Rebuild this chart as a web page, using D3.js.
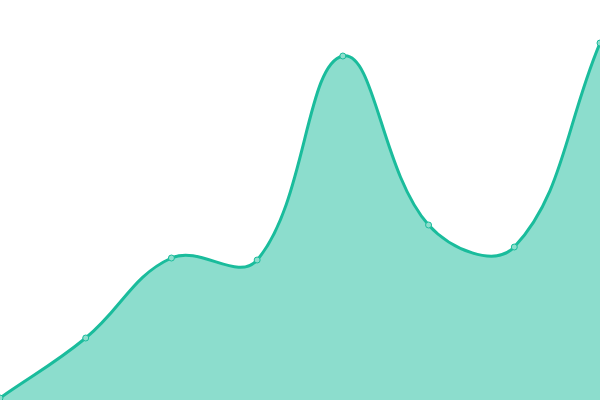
<!DOCTYPE html>
<html>
	<head>
		<meta charset = "utf-8">
		<script src = "https://d3js.org/d3.v7.min.js"></script>
		<style>
			body { margin: 0; background: #fff; }
		</style>
	</head>
	<body>
		<script>
			// Datos de la serie
			var labels = [0, 1, 2, 3, 4, 5, 6, 7];
			var values = [2, 62, 142, 140, 344, 175, 153, 357];

			var width = 600, height = 400, tension = 0.4;

			var x = d3.scaleLinear().domain([0, labels.length - 1]).range([0, width]);
			var y = d3.scaleLinear().domain([0, 400]).range([height, 0]);

			var pts = labels.map(function(d, i){ return [x(d), y(values[i])]; });

			// Curva tipo spline con tension ponderada por distancia
			function splinePath(p, ctx){
				var cps = p.map(function(cur, i){
					var prev = p[i > 0 ? i - 1 : i], next = p[i < p.length - 1 ? i + 1 : i];
					var d01 = Math.hypot(cur[0] - prev[0], cur[1] - prev[1]);
					var d12 = Math.hypot(next[0] - cur[0], next[1] - cur[1]);
					var s01 = d01 / (d01 + d12) || 0, s12 = d12 / (d01 + d12) || 0;
					var fa = tension * s01, fb = tension * s12;
					return {
						prev : [cur[0] - fa * (next[0] - prev[0]), cur[1] - fa * (next[1] - prev[1])],
						next : [cur[0] + fb * (next[0] - prev[0]), cur[1] + fb * (next[1] - prev[1])]
					};
				});
				ctx.moveTo(p[0][0], p[0][1]);
				for(var i = 1; i < p.length; i += 1){
					ctx.bezierCurveTo(cps[i - 1].next[0], cps[i - 1].next[1], cps[i].prev[0], cps[i].prev[1], p[i][0], p[i][1]);
				}
				return ctx;
			}

			var svg = d3.select("body")
				.append("svg")
				.attr("width", width)
				.attr("height", height);

			var areaPath = splinePath(pts, d3.path());
			areaPath.lineTo(x(labels[labels.length - 1]), y(0));
			areaPath.lineTo(x(labels[0]), y(0));
			areaPath.closePath();

			svg.append("path")
				.attr("d", areaPath.toString())
				.attr("fill", "#1abc9c")
				.attr("fill-opacity", 0.5);

			svg.append("path")
				.attr("d", splinePath(pts, d3.path()).toString())
				.attr("fill", "none")
				.attr("stroke", "#1abc9c")
				.attr("stroke-width", 3);

			svg.selectAll("circle")
				.data(pts)
				.enter()
				.append("circle")
				.attr("cx", function(d){ return d[0]; })
				.attr("cy", function(d){ return d[1]; })
				.attr("r", 3)
				.attr("fill", "#8ddecd")
				.attr("stroke", "#1abc9c")
				.attr("stroke-width", 1);
		</script>
	</body>
</html>
